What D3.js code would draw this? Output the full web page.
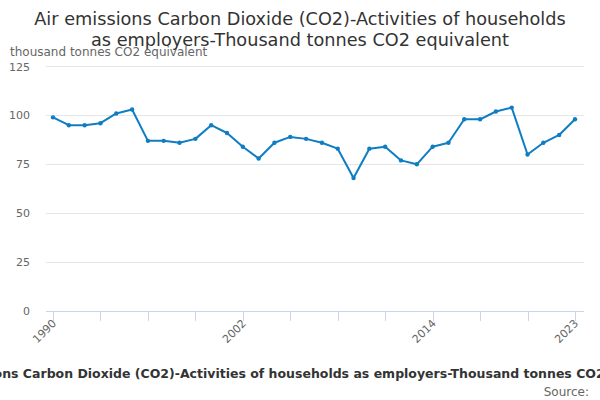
<!DOCTYPE html>
<html><head><meta charset="utf-8">
<script src="https://cdn.jsdelivr.net/npm/d3@7"></script>
<style>body{margin:0;background:#fff;font-family:"DejaVu Sans",sans-serif;}</style>
</head><body>
<svg id="c" width="600" height="400"></svg>
<script>
const years = d3.range(1990, 2024);
const values = [99,95,95,96,101,103,87,87,86,88,95,91,84,78,86,89,88,86,83,68,83,84,77,75,84,86,98,98,102,104,80,86,90,98];
const yTicks = [0,25,50,75,100,125];
const xTickYears = d3.range(1990, 2023, 3).concat([2023]);
const xLabelYears = [1990,2002,2014,2023];
const titleLines = ["Air emissions Carbon Dioxide (CO2)-Activities of households","as employers-Thousand tonnes CO2 equivalent"];
const yTitle = "thousand tonnes CO2 equivalent";
const caption = "Air emissions Carbon Dioxide (CO2)-Activities of households as employers-Thousand tonnes CO2 equivalent";
const sourceText = "Source:";

const svg = d3.select("#c");
const x = d3.scaleLinear().domain([1990,2023]).range([53,575]);
const y = d3.scaleLinear().domain([0,125]).range([311,66.5]);
const plotL = 46, plotR = 584;

svg.selectAll("text.title").data(titleLines).join("text")
  .attr("x",300).attr("y",(d,i)=>25+i*21).attr("text-anchor","middle")
  .attr("font-size",17.7).attr("fill","#333").text(d=>d);

svg.append("text").attr("x",10).attr("y",56).attr("font-size",12).attr("fill","#666").text(yTitle);

// grid
svg.append("g").selectAll("line").data(yTicks.filter(d=>d>0)).join("line")
  .attr("x1",plotL).attr("x2",plotR).attr("y1",d=>y(d)).attr("y2",d=>y(d))
  .attr("stroke","#e6e6e6").attr("stroke-width",1).attr("shape-rendering","crispEdges");

svg.append("g").selectAll("text").data(yTicks).join("text")
  .attr("x",30).attr("y",d=>y(d)+4).attr("text-anchor","end")
  .attr("font-size",11).attr("fill","#666").text(d=>d);

// x axis
svg.append("line").attr("x1",plotL).attr("x2",plotR).attr("y1",311.5).attr("y2",311.5).attr("stroke","#ccd6eb");
svg.append("g").selectAll("line").data(xTickYears).join("line")
  .attr("x1",d=>Math.round(x(d))+0.5).attr("x2",d=>Math.round(x(d))+0.5).attr("y1",311).attr("y2",321)
  .attr("stroke","#ccd6eb");
svg.append("g").selectAll("text").data(xLabelYears).join("text")
  .attr("transform",d=>`translate(${x(d)+4},${324}) rotate(-45)`)
  .attr("text-anchor","end").attr("font-size",11).attr("fill","#666").text(d=>d);

// line
const line = d3.line().x((d,i)=>x(years[i])).y(d=>y(d));
svg.append("path").datum(values).attr("d",line).attr("fill","none")
  .attr("stroke","#0f7dc2").attr("stroke-width",2).attr("stroke-linejoin","round");
svg.append("g").selectAll("circle").data(values).join("circle")
  .attr("cx",(d,i)=>x(years[i])).attr("cy",d=>y(d)).attr("r",2.2).attr("fill","#0f7dc2");

svg.append("text").attr("x",304).attr("y",378).attr("text-anchor","middle")
  .attr("font-size",12.5).attr("font-weight","bold").attr("fill","#333").text(caption);
svg.append("text").attr("x",589).attr("y",396).attr("text-anchor","end")
  .attr("font-size",12).attr("fill","#666").text(sourceText);
</script>
</body></html>
